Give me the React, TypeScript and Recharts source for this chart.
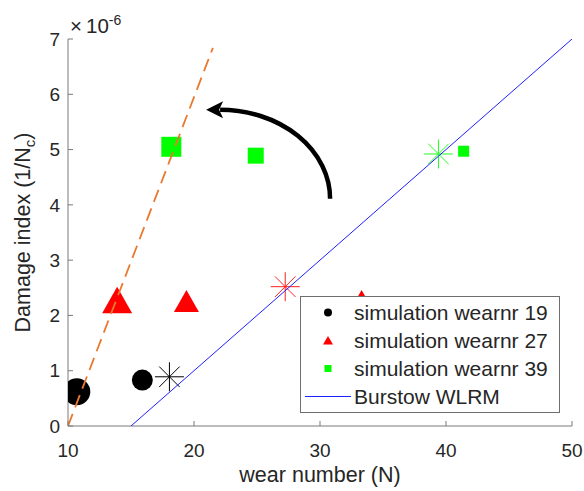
import React from 'react';
import { ScatterChart, Scatter, XAxis, YAxis, ReferenceLine, Legend } from 'recharts';

// damage index values are stored in units of 1e-6
const wear19 = [
  { x: 10.7, y: 0.62 },
  { x: 15.9, y: 0.83 },
];
const wear27 = [
  { x: 13.9, y: 2.28 },
  { x: 19.4, y: 2.26 },
  { x: 33.3, y: 2.38 },
];
const wear39 = [
  { x: 18.2, y: 5.05 },
  { x: 24.9, y: 4.89 },
  { x: 41.4, y: 4.97 },
];
const wlrm19 = [{ x: 18.05, y: 0.89 }];
const wlrm27 = [{ x: 27.24, y: 2.52 }];
const wlrm39 = [{ x: 39.4, y: 4.92 }];
const burstow = [
  { x: 15, y: 0 },
  { x: 50, y: 7 },
];
const fitLine = [
  { x: 10, y: 0 },
  { x: 21.5, y: 6.84 },
];
// tail -> tip of the annotation arrow
const arrowPath = [
  { x: 30.8, y: 4.11 },
  { x: 20.96, y: 5.72 },
];
const xTicks = [10, 20, 30, 40, 50];
const yTicks = [0, 1, 2, 3, 4, 5, 6, 7];
const seriesNames = ['simulation wearnr 19', 'simulation wearnr 27', 'simulation wearnr 39', 'Burstow WLRM'];

// marker sizes (px) per point
const size19 = [27, 21];
const size27 = [30, 25, 10];
const size39 = [20, 16, 11];

const FONT = '"Liberation Sans", Arial, Helvetica, sans-serif';
const TEXT = '#262626';
const AXIS = '#7a7a7a';

const pick = (data: { x: number }[], sizes: number[], p: any) => {
  const i = data.findIndex((d) => d.x === p?.payload?.x);
  return sizes[i >= 0 ? i : 0];
};

const circleShape = (data: any[], sizes: number[], color: string) => (p: any) => (
  <circle cx={p.cx} cy={p.cy} r={pick(data, sizes, p) / 2} fill={color} />
);

const triangleShape = (data: any[], sizes: number[], color: string) => (p: any) => {
  const w = pick(data, sizes, p);
  const h = w * 0.88;
  return (
    <polygon
      points={`${p.cx},${p.cy - h / 2} ${p.cx - w / 2},${p.cy + h / 2} ${p.cx + w / 2},${p.cy + h / 2}`}
      fill={color}
    />
  );
};

const squareShape = (data: any[], sizes: number[], color: string) => (p: any) => {
  const s = pick(data, sizes, p);
  return <rect x={p.cx - s / 2} y={p.cy - s / 2} width={s} height={s} fill={color} />;
};

const starShape = (color: string) => (p: any) => {
  const r = 14.5;
  const d = r * 0.707;
  return (
    <g stroke={color} strokeWidth={1}>
      <line x1={p.cx - r} y1={p.cy} x2={p.cx + r} y2={p.cy} />
      <line x1={p.cx} y1={p.cy - r} x2={p.cx} y2={p.cy + r} />
      <line x1={p.cx - d} y1={p.cy - d} x2={p.cx + d} y2={p.cy + d} />
      <line x1={p.cx - d} y1={p.cy + d} x2={p.cx + d} y2={p.cy - d} />
    </g>
  );
};

const noShape = () => <g />;

const XTick = ({ x, y, payload }: any) => (
  <g>
    <line x1={x} y1={y} x2={x} y2={y - 5} stroke={AXIS} />
    <text x={x} y={y + 30.5} textAnchor="middle" fontSize={19} fill={TEXT} fontFamily={FONT}>
      {payload.value}
    </text>
  </g>
);

const YTick = ({ x, y, payload }: any) => (
  <g>
    <line x1={x} y1={y} x2={x + 5} y2={y} stroke={AXIS} />
    <text x={x - 8} y={y} dy="0.355em" textAnchor="end" fontSize={19} fill={TEXT} fontFamily={FONT}>
      {payload.value}
    </text>
  </g>
);

const YTitle = (props: any) => {
  const vb = props.viewBox ?? { x: 0, y: 39, width: 68, height: 387 };
  const cy = vb.y + vb.height / 2;
  return (
    <g fontFamily={FONT} fill={TEXT}>
      <text transform={`translate(${vb.x + 30}, ${cy}) rotate(-90)`} textAnchor="middle" fontSize={21.5}>
        Damage index (1/N
        <tspan dy={5} fontSize={15}>
          c
        </tspan>
        <tspan dy={-5}>)</tspan>
      </text>
      <text x={vb.x + vb.width + 2} y={vb.y - 6} fontSize={20.5}>
        ×
        <tspan dx={4}>10</tspan>
        <tspan dy={-8} fontSize={14}>
          -6
        </tspan>
      </text>
    </g>
  );
};

const XTitle = (props: any) => {
  const vb = props.viewBox ?? { x: 68, y: 426, width: 504, height: 65 };
  return (
    <text
      x={vb.x + vb.width / 2}
      y={vb.y + vb.height - 9}
      textAnchor="middle"
      fontSize={21.5}
      fill={TEXT}
      fontFamily={FONT}
    >
      wear number (N)
    </text>
  );
};

const CurvedArrow = (p: any) => {
  const { x1, y1, x2, y2 } = p;
  const head = 17;
  const ex = x2 + head;
  return (
    <g>
      <path
        d={`M${x1},${y1} A${x1 - ex + 3},${y1 - y2} 0 0 0 ${ex - 3},${y2}`}
        fill="none"
        stroke="#000"
        strokeWidth={4.5}
      />
      <polygon points={`${x2},${y2} ${ex},${y2 - 8.5} ${ex - 4},${y2} ${ex},${y2 + 8.5}`} fill="#000" />
    </g>
  );
};

const LegendBox = ({ payload }: any) => {
  const items = (payload ?? [])
    .filter((e: any) => seriesNames.includes(e.value))
    .sort((a: any, b: any) => seriesNames.indexOf(a.value) - seriesNames.indexOf(b.value));
  return (
    <svg width={261} height={118} style={{ display: 'block', fontFamily: FONT }}>
      <rect x={0.5} y={0.5} width={259} height={116} fill="#fff" stroke="#6e6e6e" />
      {items.map((e: any, i: number) => {
        const base = 24 + 28 * i;
        const my = base - 7.5;
        let mark = null;
        if (e.type === 'circle') mark = <circle cx={28} cy={my} r={4} fill={e.color} />;
        if (e.type === 'triangle')
          mark = <polygon points={`28,${my - 4.5} 23,${my + 4} 33,${my + 4}`} fill={e.color} />;
        if (e.type === 'square') mark = <rect x={24.5} y={my - 3.5} width={7} height={7} fill={e.color} />;
        if (e.type === 'line') mark = <line x1={5} y1={my} x2={51} y2={my} stroke={e.color} strokeWidth={1} />;
        return (
          <g key={e.value}>
            {mark}
            <text x={54} y={base} fontSize={21} fill={TEXT}>
              {e.value}
            </text>
          </g>
        );
      })}
    </svg>
  );
};

export default function App() {
  return (
    <div style={{ position: 'absolute', left: 0, top: 0, fontFamily: FONT, background: '#fff' }}>
      <ScatterChart width={584} height={491} margin={{ top: 39, right: 12, bottom: 0, left: 0 }}>
        <XAxis
          type="number"
          dataKey="x"
          domain={[10, 50]}
          ticks={xTicks}
          allowDataOverflow
          height={65}
          axisLine={{ stroke: AXIS }}
          tickLine={false}
          tickSize={0}
          tickMargin={0}
          tick={<XTick />}
          label={{ content: XTitle }}
        />
        <YAxis
          type="number"
          dataKey="y"
          domain={[0, 7]}
          ticks={yTicks}
          allowDataOverflow
          width={68}
          axisLine={{ stroke: AXIS }}
          tickLine={false}
          tickSize={0}
          tickMargin={0}
          tick={<YTick />}
          label={{ content: YTitle }}
        />
        <Scatter
          name={seriesNames[0]}
          data={wear19}
          fill="#000000"
          legendType="circle"
          shape={circleShape(wear19, size19, '#000000')}
          isAnimationActive={false}
        />
        <Scatter
          name={seriesNames[1]}
          data={wear27}
          fill="#ff0000"
          legendType="triangle"
          shape={triangleShape(wear27, size27, '#ff0000')}
          isAnimationActive={false}
        />
        <Scatter
          name={seriesNames[2]}
          data={wear39}
          fill="#00ff00"
          legendType="square"
          shape={squareShape(wear39, size39, '#00ff00')}
          isAnimationActive={false}
        />
        <Scatter data={wlrm19} legendType="none" shape={starShape('#000000')} isAnimationActive={false} />
        <Scatter data={wlrm27} legendType="none" shape={starShape('#ff2020')} isAnimationActive={false} />
        <Scatter data={wlrm39} legendType="none" shape={starShape('#20ff20')} isAnimationActive={false} />
        <Scatter
          data={fitLine}
          legendType="none"
          line={{ stroke: '#ea782e', strokeWidth: 1.8, strokeDasharray: '13 7' }}
          lineJointType="linear"
          shape={noShape}
          isAnimationActive={false}
        />
        <Scatter
          name={seriesNames[3]}
          data={burstow}
          fill="#1f1fff"
          legendType="line"
          line={{ stroke: '#1f1fff', strokeWidth: 1 }}
          lineJointType="linear"
          shape={noShape}
          isAnimationActive={false}
        />
        <ReferenceLine
          segment={[arrowPath[0], arrowPath[1]]}
          ifOverflow="visible"
          shape={CurvedArrow}
        />
        <Legend
          layout="vertical"
          align="center"
          verticalAlign="middle"
          content={LegendBox}
          wrapperStyle={{ left: 300, top: 296, width: 261, height: 118 }}
        />
      </ScatterChart>
    </div>
  );
}
